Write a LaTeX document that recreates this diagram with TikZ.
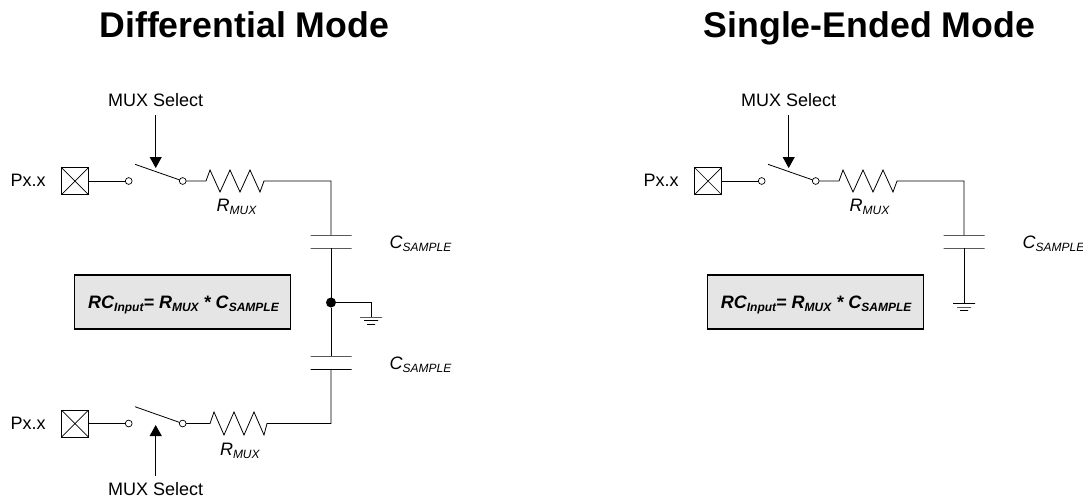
\documentclass[tikz,border=0pt]{standalone}
\usepackage{fontspec}
\setmainfont{Liberation Sans}
\usetikzlibrary{arrows.meta}
\tikzset{
  wire/.style={draw=black,line width=0.8pt,line join=miter},
  sel/.style={draw=black,line width=0.9pt,-{Triangle[length=11pt,width=12pt]},shorten >=0pt},
  pad/.style={draw=black,line width=0.9pt,minimum size=27pt,inner sep=0,outer sep=0,
    path picture={\draw[line width=0.7pt] (path picture bounding box.north west)--(path picture bounding box.south east)
      (path picture bounding box.north east)--(path picture bounding box.south west);}},
  term/.style={draw=black,circle,fill=white,line width=0.7pt,minimum size=6.8pt,inner sep=0,outer sep=0},
  plate/.style={draw=black,line width=0.8pt,minimum width=41pt,minimum height=0pt,inner sep=0,outer sep=0},
  gnda/.style={draw=black,line width=0.8pt,minimum width=22pt,minimum height=0pt,inner sep=0,outer sep=0},
  gndb/.style={draw=black,line width=0.8pt,minimum width=14pt,minimum height=0pt,inner sep=0,outer sep=0},
  gndc/.style={draw=black,line width=0.8pt,minimum width=8pt,minimum height=0pt,inner sep=0,outer sep=0},
  dot/.style={circle,fill=black,minimum size=10pt,inner sep=0,outer sep=0},
  eqbox/.style={draw=black,fill=black!10,line width=1.5pt,minimum width=216pt,minimum height=54pt,inner sep=0},
  eqtext/.style={anchor=base,inner sep=0,font=\fontsize{18}{20}\selectfont\bfseries\itshape},
  title/.style={anchor=base west,font=\fontsize{35.7}{38}\selectfont\bfseries,inner sep=0},
  lbl/.style={anchor=base,font=\fontsize{18}{20}\selectfont,inner sep=0},
  ilbl/.style={anchor=base west,font=\fontsize{18}{20}\selectfont\itshape,inner sep=0},
}
\newcommand{\subs}[2]{#1\raisebox{-3pt}{\fontsize{12}{13}\selectfont #2}}
\begin{document}
\begin{tikzpicture}[x=1pt,y=-1pt]
\useasboundingbox (0,0) rectangle (1083,499);
% titles
\node[title] (t1) at (99.3,37.7) {Differential Mode};
\node[title] (t2) at (703.5,37.7) {Single-Ended Mode};

% ---- differential, upper
\node[lbl] (mux1) at (155.7,106) {MUX Select};
\node[lbl,anchor=base west] (px1) at (10.3,186.7) {Px.x};
\node[pad] (p1) at (75,181) {};
\node[term] (a1) at (128.7,181) {};
\node[term] (b1) at (182.7,181) {};
\coordinate (sw1) at (135,164.3);
\draw[wire] (p1.east) -- (a1.west);
\draw[wire] (sw1) -- (b1);
\coordinate (s1) at (155.7,115);
\coordinate (s1e) at (155.7,168);
\draw[sel] (s1) -- (s1e);
\coordinate (r1a) at (206,181);
\coordinate (r1b) at (264,181);
\node[plate] (c1a) at (331,235) {};
\node[plate] (c1b) at (331,248) {};
\draw[wire] (b1.east) -- (r1a) -- ++(4,-11) -- ++(10,22) -- ++(10,-22) -- ++(10,22) -- ++(10,-22) -- ++(10,22) -- (r1b) -| (c1a);
\node[ilbl] (rm1) at (216.5,211.7) {\subs{R}{MUX}};
\node[ilbl] (cs1) at (389.5,248) {\subs{C}{SAMPLE}};
\node[dot] (j) at (331,302.5) {};
\draw[wire] (c1b) -- (j);
% ground
\node[gnda] (g1a) at (371,317) {};
\node[gndb] (g1b) at (371,320.7) {};
\node[gndc] (g1c) at (371,324.4) {};
\draw[wire] (j) -| (g1a);
% ---- differential, lower
\node[plate] (c2a) at (331,356) {};
\node[plate] (c2b) at (331,369.3) {};
\draw[wire] (j) -- (c2a);
\node[ilbl] (cs2) at (389.5,369) {\subs{C}{SAMPLE}};
\node[lbl] (mux2) at (155.7,495) {MUX Select};
\node[lbl,anchor=base west] (px2) at (10.3,429) {Px.x};
\node[pad] (p2) at (75,423.5) {};
\node[term] (a2) at (128.7,423.5) {};
\node[term] (b2) at (182.7,423.5) {};
\coordinate (sw2) at (135,406.7);
\draw[wire] (p2.east) -- (a2.west);
\draw[wire] (sw2) -- (b2);
\coordinate (s2) at (155.7,476);
\coordinate (s2e) at (155.7,425);
\draw[sel] (s2) -- (s2e);
\coordinate (r2a) at (210,423.5);
\coordinate (r2b) at (267,423.5);
\draw[wire] (b2.east) -- (r2a) -- ++(4,-11.5) -- ++(10,23) -- ++(10,-23) -- ++(10,23) -- ++(10,-23) -- ++(10,23) -- (r2b) -| (c2b);
\node[ilbl] (rm2) at (219.8,455) {\subs{R}{MUX}};
\node[eqbox] (eq1) at (182.7,302) {};
\node[eqtext] (eq1t) at (183.5,308) {RC\raisebox{-3pt}{\fontsize{12}{13}\selectfont Input}= \subs{R}{MUX} * \subs{C}{SAMPLE}};

% ---- single ended
\node[lbl] (mux3) at (788.7,106) {MUX Select};
\node[lbl,anchor=base west] (px3) at (643.3,186.7) {Px.x};
\node[pad] (p3) at (708,181) {};
\node[term] (a3) at (761.7,181) {};
\node[term] (b3) at (815.7,181) {};
\coordinate (sw3) at (768,164.3);
\draw[wire] (p3.east) -- (a3.west);
\draw[wire] (sw3) -- (b3);
\coordinate (s3) at (788.7,115);
\coordinate (s3e) at (788.7,168);
\draw[sel] (s3) -- (s3e);
\coordinate (r3a) at (839,181);
\coordinate (r3b) at (897,181);
\node[plate] (c3a) at (964,235) {};
\node[plate] (c3b) at (964,248) {};
\draw[wire] (b3.east) -- (r3a) -- ++(4,-11) -- ++(10,22) -- ++(10,-22) -- ++(10,22) -- ++(10,-22) -- ++(10,22) -- (r3b) -| (c3a);
\node[ilbl] (rm3) at (849.5,211.7) {\subs{R}{MUX}};
\node[ilbl] (cs3) at (1022.5,248) {\subs{C}{SAMPLE}};
\node[gnda] (g3a) at (964,303.5) {};
\node[gndb] (g3b) at (964,307) {};
\node[gndc] (g3c) at (964,310.7) {};
\draw[wire] (c3b) -- (g3a);
\node[eqbox] (eq3) at (815.3,302) {};
\node[eqtext] (eq3t) at (816.1,308) {RC\raisebox{-3pt}{\fontsize{12}{13}\selectfont Input}= \subs{R}{MUX} * \subs{C}{SAMPLE}};
\end{tikzpicture}
\end{document}
